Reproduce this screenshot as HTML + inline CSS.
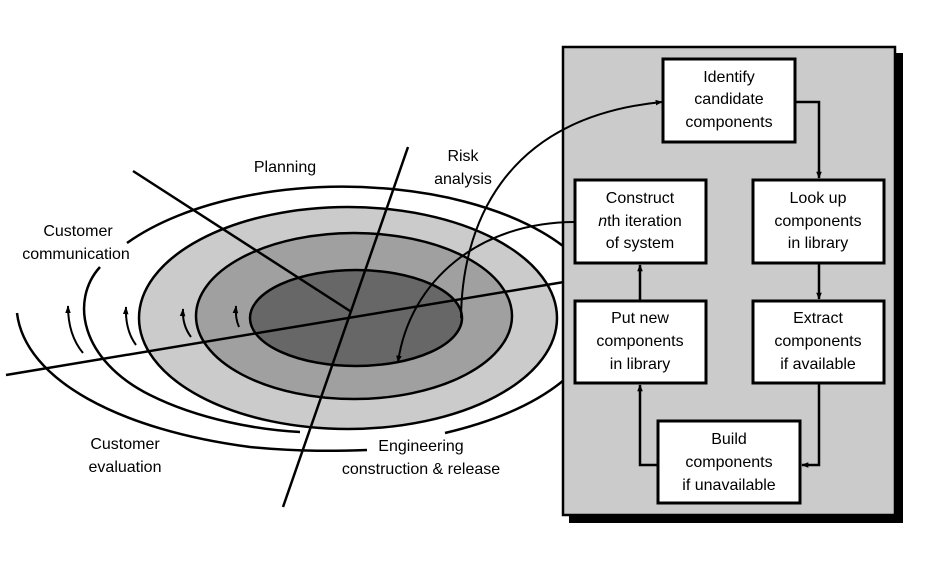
<!DOCTYPE html>
<html><head><meta charset="utf-8"><style>
html,body{margin:0;padding:0;background:#fff;}
svg{display:block;}
text{font-family:"Liberation Sans",sans-serif;font-size:16px;fill:#000;}
</style></head><body>
<svg width="935" height="562" viewBox="0 0 935 562" xmlns="http://www.w3.org/2000/svg">
<defs>
<marker id="ah" viewBox="0 0 10 10" refX="9" refY="5" markerWidth="7" markerHeight="7" orient="auto" markerUnits="userSpaceOnUse">
<path d="M0,1 L10,5 L0,9 z" fill="#000"/></marker>
<marker id="ahs" viewBox="0 0 10 10" refX="9" refY="5" markerWidth="8" markerHeight="8" orient="auto" markerUnits="userSpaceOnUse">
<path d="M0,1.5 L10,5 L0,8.5 z" fill="#000"/></marker>
</defs>
<g fill="none" stroke="#000" stroke-width="2.5">
<!-- filled ellipses -->
<ellipse cx="348" cy="318" rx="209" ry="111" fill="#cbcbcb"/>
<ellipse cx="354" cy="316" rx="158" ry="83" fill="#a0a0a0"/>
<ellipse cx="356" cy="318" rx="106" ry="48" fill="#676767"/>
<!-- outer spiral arcs -->
<path d="M127,243 A263,131 0 0 1 600,290"/>
<path d="M100,267 C70,300 80,360 150,395 C200,420 260,430 300,432"/>
<path d="M17,313 C25,380 120,430 250,447 C300,452 340,451 367,450"/>
<path d="M445,433 C500,420 545,400 575,370"/>
<!-- axis lines -->
<line x1="133" y1="171" x2="350" y2="311"/>
<line x1="408" y1="147" x2="283" y2="507"/>
<line x1="6" y1="375" x2="570" y2="281"/>
<!-- small arrows -->
<path d="M83,353 Q68,335 68,306" stroke-width="2" marker-end="url(#ahs)"/>
<path d="M136,345 Q125,330 126,307" stroke-width="2" marker-end="url(#ahs)"/>
<path d="M191,337 Q182,325 183,309" stroke-width="2" marker-end="url(#ahs)"/>
<path d="M239,327 Q235,318 236,306" stroke-width="2" marker-end="url(#ahs)"/>
</g>
<!-- panel -->
<rect x="569" y="53" width="334" height="470" fill="#000"/>
<rect x="563" y="47" width="332" height="468" fill="#cbcbcb" stroke="#000" stroke-width="2.5"/>
<g fill="none" stroke="#000" stroke-width="2">
<path d="M461,318 C462,230 500,118 662,102" marker-end="url(#ah)"/>
<path d="M575,222 C480,222 410,280 398,362" marker-end="url(#ah)"/>
</g>
<g fill="#fff" stroke="#000" stroke-width="3">
<rect x="663" y="59" width="132" height="83"/>
<rect x="575" y="180" width="131" height="83"/>
<rect x="753" y="180" width="131" height="83"/>
<rect x="575" y="301" width="131" height="82"/>
<rect x="753" y="301" width="131" height="82"/>
<rect x="658" y="421" width="142" height="82"/>
</g>
<g fill="none" stroke="#000" stroke-width="2.5">
<path d="M795,102 H819 V178" marker-end="url(#ah)"/>
<path d="M819,263 V299" marker-end="url(#ah)"/>
<path d="M819,383 V465 H802" marker-end="url(#ah)"/>
<path d="M658,465 H640 V385" marker-end="url(#ah)"/>
<path d="M640,301 V265" marker-end="url(#ah)"/>
</g>
<g text-anchor="middle">
<text x="729" y="82">Identify</text><text x="729" y="104">candidate</text><text x="729" y="127">components</text>
<text x="640" y="203">Construct</text><text x="640" y="226"><tspan font-style="italic">n</tspan>th iteration</text><text x="640" y="248">of system</text>
<text x="818" y="203">Look up</text><text x="818" y="226">components</text><text x="818" y="248">in library</text>
<text x="640" y="323">Put new</text><text x="640" y="346">components</text><text x="640" y="369">in library</text>
<text x="818" y="323">Extract</text><text x="818" y="346">components</text><text x="818" y="369">if available</text>
<text x="729" y="444">Build</text><text x="729" y="467">components</text><text x="729" y="490">if unavailable</text>
<text x="285" y="172">Planning</text>
<text x="463" y="161">Risk</text><text x="463" y="184">analysis</text>
<text x="78" y="236">Customer</text><text x="76" y="259">communication</text>
<text x="125" y="449">Customer</text><text x="125" y="472">evaluation</text>
<text x="421" y="451">Engineering</text><text x="421" y="474">construction &amp; release</text>
</g>
</svg>
</body></html>
